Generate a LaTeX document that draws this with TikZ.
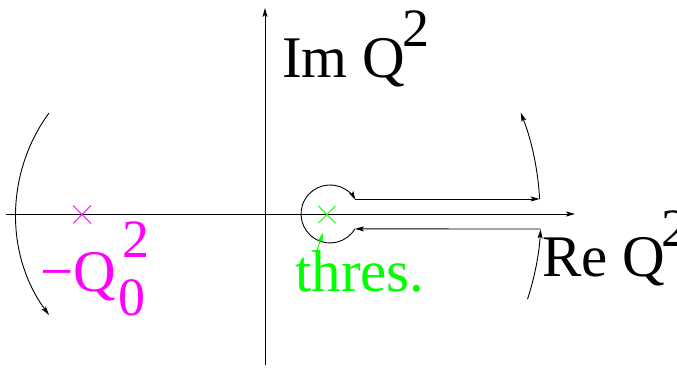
\documentclass[tikz,border=0pt]{standalone}
\usepackage{fontspec}
\setmainfont{Liberation Serif}
\usetikzlibrary{arrows.meta,calc}
\definecolor{xmag}{RGB}{255,0,255}
\definecolor{xgreen}{RGB}{0,255,0}
\tikzset{
  ln/.style={line width=0.9pt, draw=black},
  arr/.style={ln, -{Stealth[length=9pt,width=5pt,inset=2pt]}},
  big/.style={inner sep=0pt, anchor=base west, font=\fontsize{59}{62}\selectfont},
  sml/.style={inner sep=0pt, anchor=base west, font=\fontsize{54}{57}\selectfont},
  crs/.style={line width=0.9pt}
}
\begin{document}
\begin{tikzpicture}[x=1pt,y=1pt]
\useasboundingbox (0,0) rectangle (677,367);
% axes
\coordinate (xl) at (6,153);
\coordinate (xr) at (575,153);
\coordinate (yb) at (265,2);
\coordinate (yt) at (265,359);
\draw[arr] (xl) -- (xr);
\draw[arr] (yb) -- (yt);
% contour points
\coordinate (o) at (265,153);
\coordinate (c1) at (354.9,138.1);
\coordinate (c2) at (355.4,168);
\coordinate (u2) at (539.6,168);
\coordinate (l1) at (540.6,138);
\coordinate (l0) at ($(o)+(-18:276)$);
% small circle around threshold
\draw[arr] (c1) arc[start angle=-31, end angle=-331, radius=29];
\draw[arr] (c2) -- (u2);
\draw[arr] (u2) arc[start angle=3.1, end angle=21.6, radius=275];
\draw[arr] (l0) arc[start angle=-18, end angle=-3.2, radius=276];
\draw[arr] (l1) -- (c1);
% left arc
\coordinate (lt) at (49,254);
\draw[arr] (lt) arc[start angle=143.8, end angle=216.2, radius=171];
% crosses
\coordinate (m) at (82,152.5);
\coordinate (g) at (327,152.5);
\draw[xmag,crs] ($(m)+(-9,-9)$) -- ($(m)+(9,9)$) ($(m)+(-9,9)$) -- ($(m)+(9,-9)$);
\draw[xgreen,crs] ($(g)+(-8.5,-8.5)$) -- ($(g)+(8.5,8.5)$) ($(g)+(-8.5,8.5)$) -- ($(g)+(8.5,-8.5)$);
% labels
\node[big] (im) at (282,289) {Im Q};
\node[sml] (im2) at (402,320) {2};
\node[big] (re) at (542,91) {Re Q};
\node[sml] (re2) at (661,121) {2};
\node[big, text=xgreen] (thr) at (295,76) {thres.};
\node[big, text=xmag] (mq) at (40,76) {−Q};
\node[sml, text=xmag] (mq0) at (118,52) {0};
\node[sml, text=xmag] (mq2) at (122,110) {2};
\coordinate (ga) at (316,114);
\coordinate (gb) at (323,134);
\draw[xgreen, line width=0.9pt, -{Stealth[length=9pt,width=5pt,inset=2pt]}] (ga) -- (gb);
\end{tikzpicture}
\end{document}
